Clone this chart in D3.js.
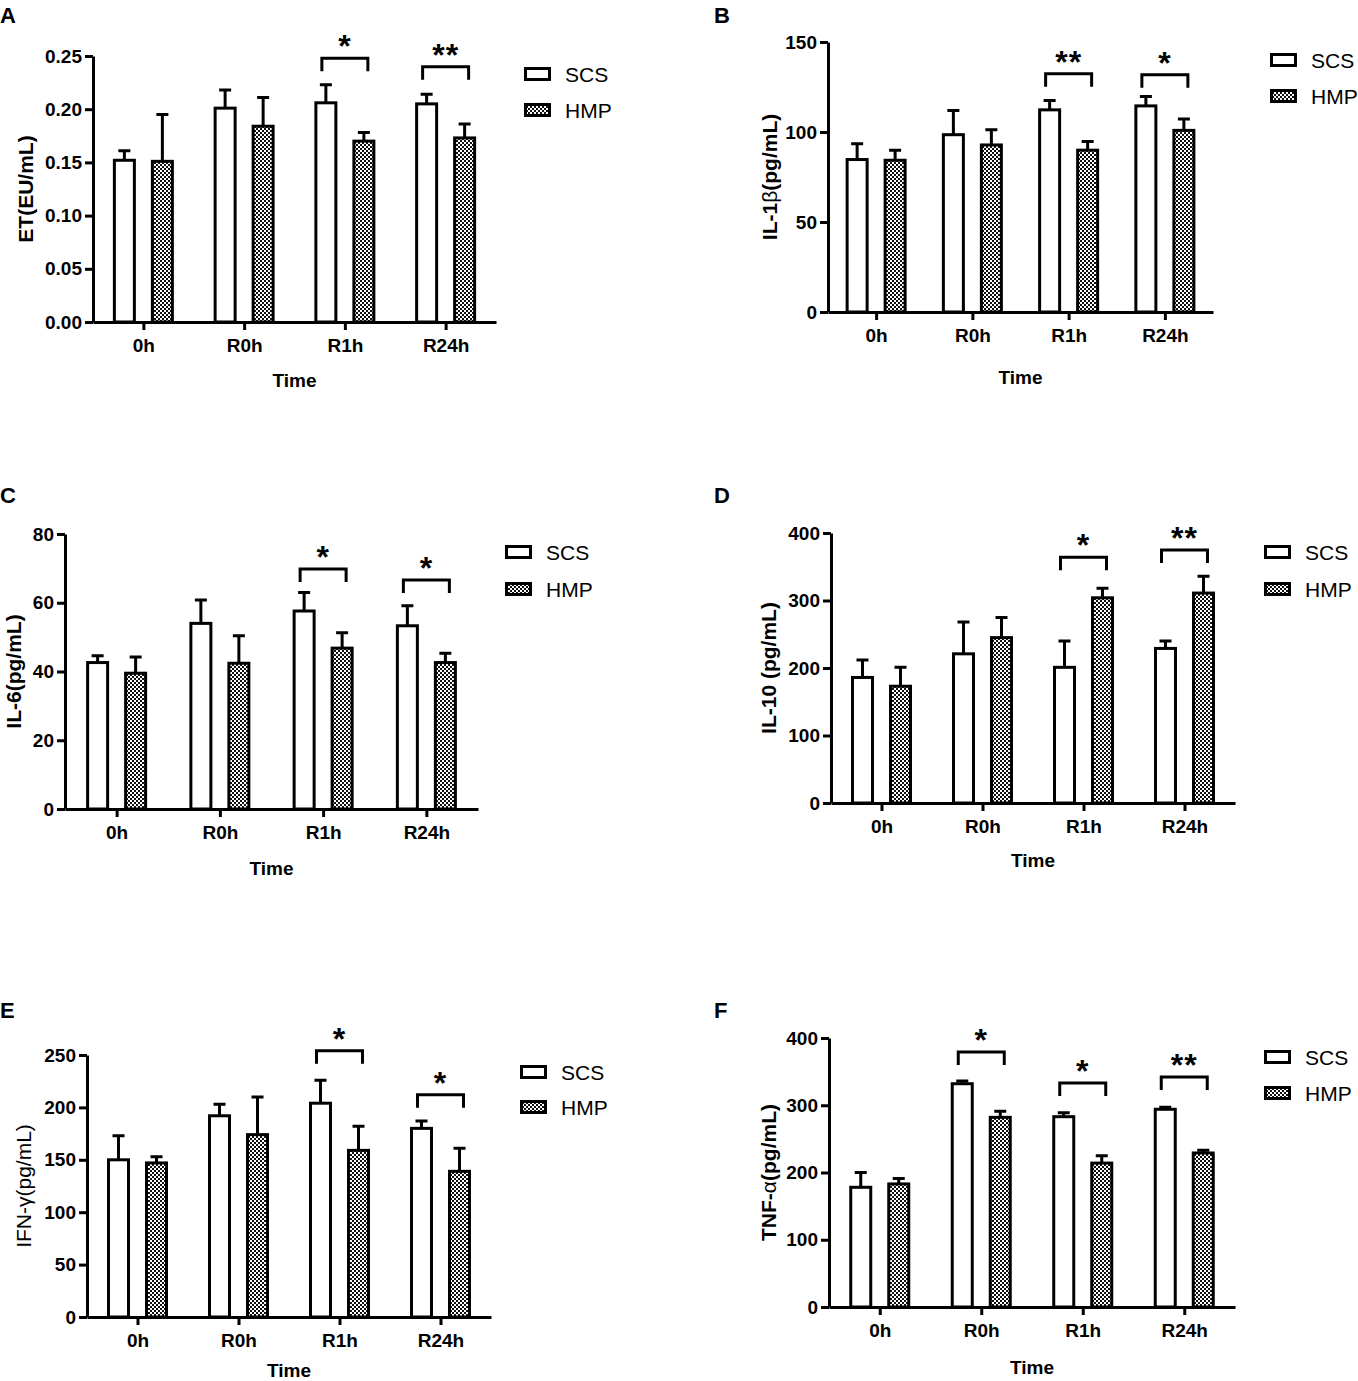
<!DOCTYPE html>
<html>
<head>
<meta charset="utf-8">
<script src="https://cdn.jsdelivr.net/npm/d3@7"></script>
<style>
  body { margin: 0; background: #fff; }
  svg { display: block; font-family: "Liberation Sans", Arial, sans-serif; }
</style>
</head>
<body>
<svg id="fig" width="1358" height="1381"></svg>
<script>
const times = ["0h", "R0h", "R1h", "R24h"];
const groups = ["SCS", "HMP"];

// A - ET
const etSCS = [0.152, 0.201, 0.206, 0.205];
const etSCSsd = [0.009, 0.017, 0.017, 0.009];
const etHMP = [0.151, 0.184, 0.170, 0.173];
const etHMPsd = [0.044, 0.027, 0.008, 0.013];
const etSig = ["", "", "*", "**"];
const etSigAt = [null, null, 0.248, 0.240];

// B - IL-1β
const il1bSCS = [84.7, 98.5, 112.3, 114.5];
const il1bSCSsd = [8.8, 13.5, 5.2, 5.2];
const il1bHMP = [84.3, 92.8, 89.9, 100.9];
const il1bHMPsd = [5.6, 8.5, 4.8, 6.3];
const il1bSig = ["", "", "**", "*"];
const il1bSigAt = [null, null, 132.4, 131.8];

// C - IL-6
const il6SCS = [42.6, 54.0, 57.6, 53.3];
const il6SCSsd = [2.0, 6.8, 5.4, 5.8];
const il6HMP = [39.5, 42.4, 46.8, 42.6];
const il6HMPsd = [4.7, 8.0, 4.5, 2.7];
const il6Sig = ["", "", "*", "*"];
const il6SigAt = [null, null, 69.8, 66.6];

// D - IL-10
const il10SCS = [186, 221, 201, 229];
const il10SCSsd = [26, 47, 39, 11];
const il10HMP = [173, 245, 304, 311];
const il10HMPsd = [28, 30, 14, 25];
const il10Sig = ["", "", "*", "**"];
const il10SigAt = [null, null, 364, 375];

// E - IFN-γ
const ifnSCS = [150, 192, 204, 180];
const ifnSCSsd = [23, 11, 22, 7];
const ifnHMP = [147, 174, 159, 139];
const ifnHMPsd = [6, 36, 23, 22];
const ifnSig = ["", "", "*", "*"];
const ifnSigAt = [null, null, 254, 212];

// F - TNF-α
const tnfSCS = [178, 332, 283, 294];
const tnfSCSsd = [22, 4, 6, 3];
const tnfHMP = [183, 282, 214, 229];
const tnfHMPsd = [8, 9, 11, 4];
const tnfSig = ["", "*", "*", "**"];
const tnfSigAt = [null, 379, 333, 342];

const svg = d3.select("#fig");

// checkerboard fill used for HMP
const pat = svg.append("defs").append("pattern")
    .attr("id", "checker")
    .attr("patternUnits", "userSpaceOnUse")
    .attr("width", 4)
    .attr("height", 4);
pat.append("rect").attr("width", 4).attr("height", 4).attr("fill", "#fff");
pat.append("rect").attr("width", 2).attr("height", 2).attr("fill", "#111");
pat.append("rect").attr("x", 2).attr("y", 2).attr("width", 2).attr("height", 2).attr("fill", "#111");

const fills = { SCS: "#fff", HMP: "url(#checker)" };

// title pieces: [text, bold?]
const panels = [
  { letter: "A", title: [["ET(EU/mL)", 1]], max: 0.25, step: 0.05, fmt: d3.format(".2f"),
    mean: [etSCS, etHMP], sd: [etSCSsd, etHMPsd], sig: etSig, sigAt: etSigAt,
    x0: 93, x1: 496, yTop: 56, yBot: 322, letterX: 0, letterY: 23,
    legX: 524, legY: [74, 110], ytX: 25, timeY: 380 },
  { letter: "B", title: [["IL-1", 1], ["β", 0], ["(pg/mL)", 1]], max: 150, step: 50, fmt: d3.format("d"),
    mean: [il1bSCS, il1bHMP], sd: [il1bSCSsd, il1bHMPsd], sig: il1bSig, sigAt: il1bSigAt,
    x0: 828, x1: 1213, yTop: 42, yBot: 312, letterX: 714, letterY: 23,
    legX: 1270, legY: [60, 96], ytX: 769, timeY: 377 },
  { letter: "C", title: [["IL-6(pg/mL)", 1]], max: 80, step: 20, fmt: d3.format("d"),
    mean: [il6SCS, il6HMP], sd: [il6SCSsd, il6HMPsd], sig: il6Sig, sigAt: il6SigAt,
    x0: 65, x1: 478, yTop: 534, yBot: 809, letterX: 0, letterY: 503,
    legX: 505, legY: [552, 589], ytX: 13, timeY: 868 },
  { letter: "D", title: [["IL-10 (pg/mL)", 1]], max: 400, step: 100, fmt: d3.format("d"),
    mean: [il10SCS, il10HMP], sd: [il10SCSsd, il10HMPsd], sig: il10Sig, sigAt: il10SigAt,
    x0: 831, x1: 1235, yTop: 533, yBot: 803, letterX: 714, letterY: 503,
    legX: 1264, legY: [552, 589], ytX: 768, timeY: 860 },
  { letter: "E", title: [["IFN-γ(pg/mL)", 0]], max: 250, step: 50, fmt: d3.format("d"),
    mean: [ifnSCS, ifnHMP], sd: [ifnSCSsd, ifnHMPsd], sig: ifnSig, sigAt: ifnSigAt,
    x0: 87, x1: 491, yTop: 1055, yBot: 1317, letterX: 0, letterY: 1018,
    legX: 520, legY: [1072, 1107], ytX: 23, timeY: 1370 },
  { letter: "F", title: [["TNF-", 1], ["α", 0], ["(pg/mL)", 1]], max: 400, step: 100, fmt: d3.format("d"),
    mean: [tnfSCS, tnfHMP], sd: [tnfSCSsd, tnfHMPsd], sig: tnfSig, sigAt: tnfSigAt,
    x0: 829, x1: 1235, yTop: 1038, yBot: 1307, letterX: 714, letterY: 1018,
    legX: 1264, legY: [1057, 1093], ytX: 768, timeY: 1367 }
];

function styleAxis(sel) {
  sel.select(".domain").attr("stroke", "#000").attr("stroke-width", 3);
  sel.selectAll(".tick line").attr("stroke", "#000").attr("stroke-width", 3);
  sel.selectAll(".tick text")
    .attr("fill", "#000")
    .attr("font-size", 19)
    .attr("font-weight", "bold")
    .attr("font-family", "Liberation Sans, Arial, sans-serif");
}

function drawPanel(p) {
  const g = svg.append("g");

  const x = d3.scalePoint().domain(times).range([p.x0, p.x1]).padding(0.5);
  const xs = d3.scalePoint().domain(groups).range([-19, 19]);
  const y = d3.scaleLinear().domain([0, p.max]).range([p.yBot, p.yTop]);
  const bw = 20;

  // error bars first, bars drawn over them
  groups.forEach((grp, gi) => {
    const rows = times.map((t, i) => ({ t, v: p.mean[gi][i], sd: p.sd[gi][i] }));

    g.append("g").selectAll("path")
      .data(rows)
      .join("path")
        .attr("d", d => {
          const cx = x(d.t) + xs(grp);
          const top = y(d.v + d.sd);
          return `M${cx},${y(d.v)}V${top}M${cx - 6},${top}H${cx + 6}`;
        })
        .attr("fill", "none")
        .attr("stroke", "#000")
        .attr("stroke-width", 3);

    g.append("g").selectAll("rect")
      .data(rows)
      .join("rect")
        .attr("x", d => x(d.t) + xs(grp) - bw / 2)
        .attr("y", d => y(d.v))
        .attr("width", bw)
        .attr("height", d => y(0) - y(d.v))
        .attr("fill", fills[grp])
        .attr("stroke", "#000")
        .attr("stroke-width", 3);
  });

  // axes
  g.append("g")
    .attr("transform", `translate(${p.x0},0)`)
    .call(d3.axisLeft(y)
      .tickValues(d3.range(0, p.max + p.step / 2, p.step))
      .tickFormat(p.fmt)
      .tickSize(8).tickSizeOuter(0).tickPadding(3))
    .call(styleAxis);

  g.append("g")
    .attr("transform", `translate(0,${p.yBot})`)
    .call(d3.axisBottom(x).tickSize(8).tickSizeOuter(0).tickPadding(9))
    .call(styleAxis);

  // significance brackets
  times.forEach((t, i) => {
    if (!p.sig[i]) return;
    const lv = y(p.sigAt[i]);
    const a = x(t) - 23, b = x(t) + 23;
    g.append("path")
      .attr("d", `M${a},${lv + 13}V${lv}H${b}V${lv + 13}`)
      .attr("fill", "none")
      .attr("stroke", "#000")
      .attr("stroke-width", 3);
    g.append("text")
      .attr("x", x(t))
      .attr("y", lv - 1)
      .attr("text-anchor", "middle")
      .attr("font-size", 32)
      .attr("font-weight", "bold")
      .attr("letter-spacing", 1)
      .text(p.sig[i]);
  });

  // legend
  groups.forEach((grp, gi) => {
    g.append("rect")
      .attr("x", p.legX + 1.5)
      .attr("y", p.legY[gi] - 5.5)
      .attr("width", 24)
      .attr("height", 11)
      .attr("fill", fills[grp])
      .attr("stroke", "#000")
      .attr("stroke-width", 3);
    g.append("text")
      .attr("x", p.legX + 41)
      .attr("y", p.legY[gi])
      .attr("dominant-baseline", "central")
      .attr("font-size", 21)
      .text(grp);
  });

  // labels
  g.append("text")
    .attr("x", p.letterX)
    .attr("y", p.letterY)
    .attr("font-size", 22)
    .attr("font-weight", "bold")
    .text(p.letter);

  const yt = g.append("text")
    .attr("transform", `translate(${p.ytX},${(p.yTop + p.yBot) / 2}) rotate(-90)`)
    .attr("text-anchor", "middle")
    .attr("dominant-baseline", "central")
    .attr("font-size", 21);
  p.title.forEach(([s, b]) => {
    yt.append("tspan")
      .attr("font-weight", b ? "bold" : "normal")
      .text(s);
  });

  g.append("text")
    .attr("x", (p.x0 + p.x1) / 2)
    .attr("y", p.timeY)
    .attr("text-anchor", "middle")
    .attr("dominant-baseline", "central")
    .attr("font-size", 19)
    .attr("font-weight", "bold")
    .text("Time");
}

panels.forEach(drawPanel);
</script>
</body>
</html>
